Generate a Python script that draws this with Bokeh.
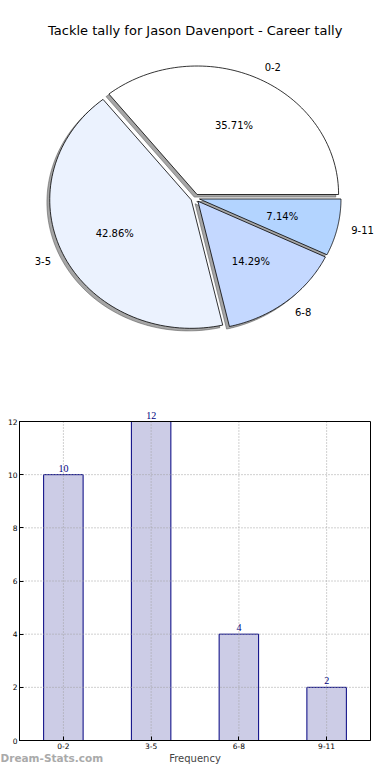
import numpy as np
from bokeh.plotting import figure
from bokeh.layouts import column
from bokeh.models import (Range1d, ColumnDataSource, Label, LabelSet,
                          FixedTicker, BoxAnnotation)
from bokeh.core.properties import value
from bokeh.embed import file_html
from bokeh.resources import INLINE

# ---- data ----
title = "Tackle tally for Jason Davenport - Career tally"
categories = ["0-2", "3-5", "6-8", "9-11"]
counts = [10, 12, 4, 2]
pie_colors = ["#ffffff", "#ebf2fe", "#c4d8ff", "#b3d4ff"]
y_ticks = [0, 2, 4, 6, 8, 10, 12]
y_max = 12
x_label = "Frequency"
watermark = "Dream-Stats.com"

FONT = "DejaVu Sans"
W = 374

# ---- pie (elliptical, as in the original) ----
H1 = 390
rx, ry = 141.5, 128.5      # px per data unit in x / y
cx, cy = 194.7, 197.6      # pie centre (page px)
explode = 0.031
shadow_dx, shadow_dy = -0.02, -0.02

pie = figure(width=W, height=H1, output_backend="svg", toolbar_location=None,
             x_range=Range1d(-cx / rx, (W - cx) / rx),
             y_range=Range1d(-(H1 - cy) / ry, cy / ry),
             min_border=0)
pie.axis.visible = False
pie.grid.visible = False
pie.outline_line_color = None

vals = np.array(counts, dtype=float)
fracs = vals / vals.sum()
theta = np.concatenate([[0.0], np.cumsum(fracs)]) * 2 * np.pi

wx, wy, sx, sy = [], [], [], []
lab_x, lab_y, lab_align = [], [], []
pct_x, pct_y, pct_txt = [], [], []
for i in range(len(counts)):
    t1, t2 = theta[i], theta[i + 1]
    tm = 0.5 * (t1 + t2)
    ox, oy = explode * np.cos(tm), explode * np.sin(tm)
    ang = np.linspace(t1, t2, 80)
    px = np.concatenate([[ox], ox + np.cos(ang), [ox]])
    py = np.concatenate([[oy], oy + np.sin(ang), [oy]])
    wx.append(px); wy.append(py)
    sx.append(px + shadow_dx); sy.append(py + shadow_dy)
    lab_x.append(ox + 1.1 * np.cos(tm)); lab_y.append(oy + 1.1 * np.sin(tm))
    lab_align.append("left" if np.cos(tm) > 0 else "right")
    pct_x.append(ox + 0.6 * np.cos(tm)); pct_y.append(oy + 0.6 * np.sin(tm))
    pct_txt.append("%.2f%%" % (100 * fracs[i]))

pie.patches(sx, sy, fill_color="#4d4d4d", fill_alpha=0.5,
            line_color="#4d4d4d", line_alpha=0.5)
pie.patches(wx, wy, fill_color=pie_colors, line_color="black", line_width=0.8)

lab_src = ColumnDataSource(dict(x=lab_x, y=lab_y, t=categories, a=lab_align))
pie.text("x", "y", text="t", text_align="a", source=lab_src,
         text_baseline="middle", text_font=value(FONT),
         text_font_size="10px", text_color="black")
pct_src = ColumnDataSource(dict(x=pct_x, y=pct_y, t=pct_txt))
pie.text("x", "y", text="t", source=pct_src, text_align="center",
         text_baseline="middle", text_font=value(FONT),
         text_font_size="10px", text_color="black")

pie.add_layout(Label(x=0, y=(cy - 30) / ry,
                     text=title, text_align="center", text_baseline="middle",
                     text_font=FONT, text_font_size="13px", text_color="black"))

# ---- bar chart (whole canvas is the frame; axes fixed at the box edges) ----
H2 = 374
BOX_L, BOX_R = 19, 370     # box left / right (px)
BOX_T, BOX_B = 31, 350     # box top / bottom (px from figure top)
n = len(categories)
kx = (BOX_R - BOX_L) / n
ky = (BOX_B - BOX_T) / y_max
x0, x1 = -0.5, n - 0.5
bar = figure(width=W, height=H2, output_backend="svg", toolbar_location=None,
             x_range=Range1d(x0 - BOX_L / kx, x1 + (W - BOX_R) / kx),
             y_range=Range1d(-(H2 - BOX_B) / ky, y_max + BOX_T / ky),
             min_border=0)
bar.outline_line_color = None
bar.grid.visible = False

xs = list(range(n))
src = ColumnDataSource(dict(x=xs, top=counts, t=[str(c) for c in counts]))
bar.vbar(x="x", top="top", width=0.45, source=src,
         fill_color="#cccce6", line_color="#000080", line_width=1)

# dotted grid over the bars, limited to the box
gx = dict(x0=xs, x1=xs, y0=[0] * n, y1=[y_max] * n)
gy = dict(x0=[x0] * len(y_ticks), x1=[x1] * len(y_ticks), y0=y_ticks, y1=y_ticks)
for g in (gx, gy):
    bar.segment("x0", "y0", "x1", "y1", source=ColumnDataSource(g),
                line_color="#a0a0a0", line_dash="1 2", line_width=1)

bar.add_layout(BoxAnnotation(left=x0, right=x1, bottom=0, top=y_max,
                             fill_alpha=0, line_color="black", line_width=1,
                             line_alpha=1))

bar.add_layout(LabelSet(x="x", y="top", text="t", source=src, text_align="center",
                        text_baseline="bottom", y_offset=3, text_font=FONT,
                        text_font_size="10px", text_color="#000080"))

xa = bar.xaxis[0]
ya = bar.yaxis[0]
xa.fixed_location = 0
ya.fixed_location = x0
xa.bounds = (x0, x1)
ya.bounds = (0, y_max)
xa.ticker = FixedTicker(ticks=xs)
xa.major_label_overrides = {i: c for i, c in enumerate(categories)}
ya.ticker = FixedTicker(ticks=y_ticks)
for ax in (xa, ya):
    ax.major_label_text_font = FONT
    ax.major_label_text_font_size = "7.5px"
    ax.major_label_text_color = "black"
    ax.major_label_standoff = 2
    ax.major_tick_in = 4
    ax.major_tick_out = 0
    ax.minor_tick_line_color = None
    ax.axis_line_color = "black"
xa.axis_label = x_label
xa.axis_label_text_font = FONT
xa.axis_label_text_font_size = "10px"
xa.axis_label_text_font_style = "normal"
xa.axis_label_standoff = 1

bar.add_layout(Label(x=x0 - BOX_L / kx, y=-(H2 - BOX_B) / ky + 1 / ky,
                     text=watermark, text_align="left",
                     text_baseline="bottom", text_font=FONT,
                     text_font_size="10.5px", text_font_style="bold",
                     text_color="#aaaaaa"))

layout = column(pie, bar, spacing=0)
open("out.html", "w").write(file_html(layout, INLINE))
